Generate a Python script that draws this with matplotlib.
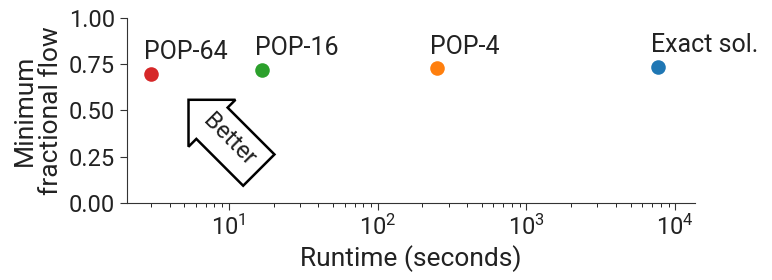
import numpy as np
import matplotlib.pyplot as plt

plt.rcParams['font.family'] = ['Roboto', 'DejaVu Sans']

# data
names = ["Exact sol.", "POP-4", "POP-16", "POP-64"]
runtime = [7600, 250, 16.6, 3.0]
min_flow = [0.735, 0.727, 0.718, 0.697]
colors = ["#1f77b4", "#ff7f0e", "#2ca02c", "#d62728"]

fig = plt.figure(figsize=(7.72, 2.8), dpi=100)
ax = fig.add_axes([0.1645, 0.275, 0.736, 0.661])

for n, x, y, c in zip(names, runtime, min_flow, colors):
    ax.scatter(x, y, s=110, color=c, zorder=3, linewidths=0)
    ax.annotate(n, (x, y), xytext=(-5, 7), textcoords="offset points",
                fontsize=18, color="#222222", ha="left", va="bottom")

ax.set_xscale("log")
ax.set_xlim(2.07, 13600)
ax.set_ylim(0, 1.0)
ax.set_yticks([0, 0.25, 0.5, 0.75, 1.0])
ax.set_yticklabels(["0.00", "0.25", "0.50", "0.75", "1.00"])

ax.text(10.0, 0.34, "Better", rotation=-45, fontsize=17, color="#222222",
        ha="center", va="center",
        bbox=dict(boxstyle="larrow,pad=0.45", fc="white", ec="black", lw=1.8))

ax.set_xlabel("Runtime (seconds)", fontsize=19, color="#222222")
ax.set_ylabel("Minimum\nfractional flow", fontsize=19, color="#222222",
              linespacing=1.15)
ax.tick_params(labelsize=17, colors="#333333", labelcolor="#222222")
ax.tick_params(which="major", length=5)
ax.tick_params(which="minor", length=3)
for s in ["top", "right"]:
    ax.spines[s].set_visible(False)
for s in ["left", "bottom"]:
    ax.spines[s].set_color("#333333")

fig.savefig("out.png", dpi=100)
